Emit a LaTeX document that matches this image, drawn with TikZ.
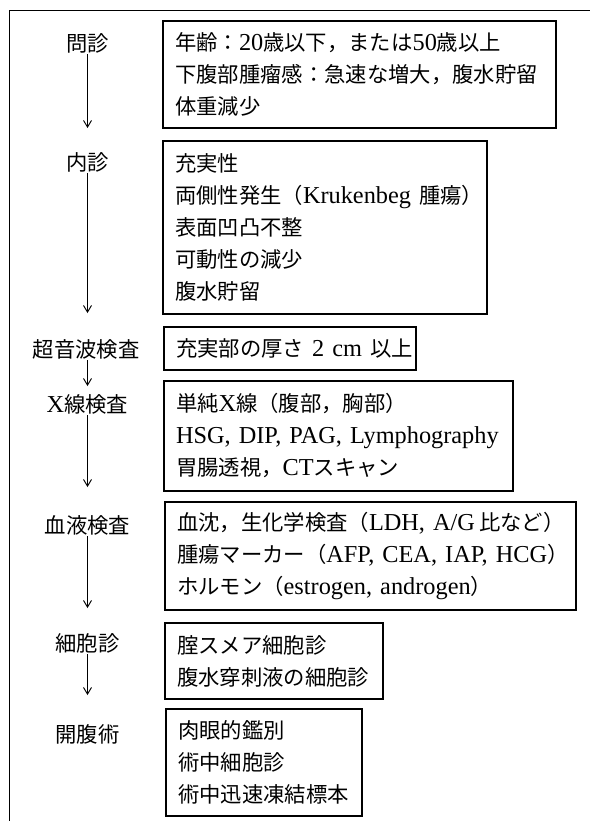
\documentclass[tikz,border=0pt]{standalone}
\usepackage{fontspec}
\setmainfont{Liberation Serif}[Scale=1.14]
\newfontfamily\jpfont{Noto Sans CJK JP}
\newcommand{\jtx}[1]{{\jpfont #1}}
\usetikzlibrary{arrows.meta}
\begin{document}
\begin{tikzpicture}[x=0.75pt,y=-0.75pt,
  every node/.style={font=\fontsize{16pt}{24pt}\selectfont},
  box/.style={draw, line width=0.8pt, inner xsep=9pt, inner ysep=0pt, align=left, anchor=center},
  lab/.style={inner sep=1pt, anchor=center},
  arr/.style={line width=0.7pt, -{Straight Barb[length=5pt,width=6pt]}},
  frame/.style={line width=0.7pt}
]
\useasboundingbox (0,0) rectangle (590,821);
\draw[frame] (9,821) -- (9,10) -- (590,10);

% boxes
\node[box, text width=276.75pt, minimum height=80.25pt] (b1) at (359.5,74.5)
  {\jtx{年齢：}20\jtx{歳以下，または}50\jtx{歳以上}\\
   \jtx{下腹部腫瘤感：急速な増大，腹水貯留}\\
   \jtx{体重減少}};
\node[box, text width=225pt, minimum height=129.75pt] (b2) at (325,227.5)
  {\jtx{充実性}\\
   \jtx{両側性発生（}Krukenbeg~\jtx{腫瘍）}\\
   \jtx{表面凹凸不整}\\
   \jtx{可動性の減少}\\
   \jtx{腹水貯留}};
\node[box, text width=171pt, minimum height=32.25pt] (b3) at (290,348.5)
  {\jtx{充実部の厚さ}~2~cm~\jtx{以上}};
\node[box, text width=243.75pt, minimum height=82.5pt] (b4) at (338.5,436)
  {\jtx{単純}X\jtx{線（腹部，胸部）}\\
   HSG,~DIP,~PAG,~Lymphography\\
   \jtx{胃腸透視，}CT\jtx{スキャン}};
\node[box, text width=290.25pt, minimum height=81pt] (b5) at (370.5,556)
  {\jtx{血沈，生化学検査（}LDH,~A/G\,\jtx{比など）}\\
   \jtx{腫瘍マーカー（}AFP,~CEA,~IAP,~HCG\jtx{）}\\
   \jtx{ホルモン（}estrogen,~androgen\jtx{）}};
\node[box, text width=145.5pt, minimum height=57pt] (b6) at (274,661)
  {\jtx{腟スメア細胞診}\\
   \jtx{腹水穿刺液の細胞診}};
\node[box, text width=129pt, minimum height=80.25pt] (b7) at (264,762.5)
  {\jtx{肉眼的鑑別}\\
   \jtx{術中細胞診}\\
   \jtx{術中迅速凍結標本}};

% labels
\node[lab] (l1) at (87.5,43) {\jtx{問診}};
\node[lab] (l2) at (87.5,162) {\jtx{内診}};
\node[lab] (l3) at (86,349) {\jtx{超音波検査}};
\node[lab] (l4) at (87.5,404) {X\jtx{線検査}};
\node[lab] (l5) at (87.5,525) {\jtx{血液検査}};
\node[lab] (l6) at (87.5,643) {\jtx{細胞診}};
\node[lab] (l7) at (87.5,734) {\jtx{開腹術}};

% arrow ends
\coordinate (e1) at (87.5,128);
\coordinate (e2) at (87.5,313);
\coordinate (e3) at (87.5,386);
\coordinate (e4) at (87.5,487);
\coordinate (e5) at (87.5,608);
\coordinate (e6) at (87.5,695);

\draw[arr] (l1.south) -- (e1);
\draw[arr] (l2.south) -- (e2);
\draw[arr] (l3.south -| e3) -- (e3);
\draw[arr] (l4.south) -- (e4);
\draw[arr] (l5.south) -- (e5);
\draw[arr] (l6.south) -- (e6);
\end{tikzpicture}
\end{document}
